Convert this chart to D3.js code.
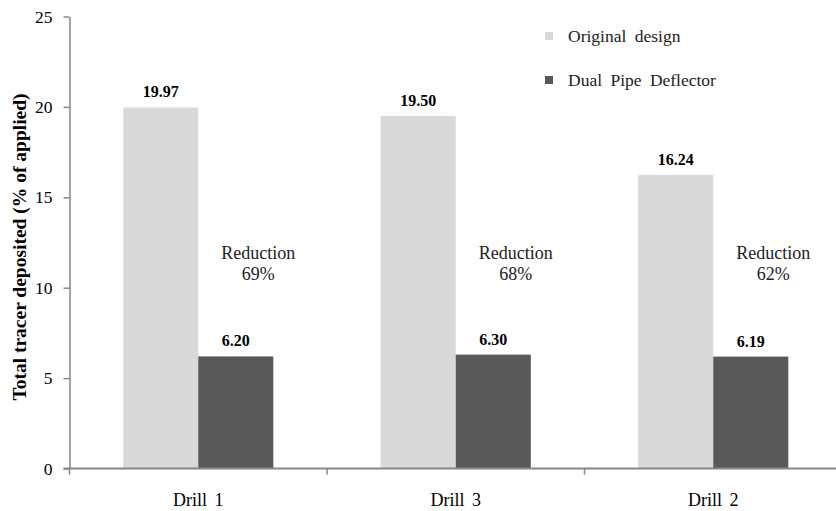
<!DOCTYPE html>
<html>
<head>
<meta charset="utf-8">
<script src="https://cdn.jsdelivr.net/npm/d3@7/dist/d3.min.js"></script>
<style>
  html, body { margin: 0; padding: 0; background: #fff; }
</style>
</head>
<body>
<svg id="chart" width="836" height="511"></svg>
<script>
// Drills in plotted order
const drills = ["Drill 1", "Drill 3", "Drill 2"];
// Series
const seriesNames = ["Original design", "Dual Pipe Deflector"];
const originalDesign = [19.97, 19.50, 16.24];
const dualPipeDeflector = [6.20, 6.30, 6.19];
const reductionPct = [69, 68, 62];
const yTicks = [0, 5, 10, 15, 20, 25];

const colors = ["#d9d9d9", "#595959"];
const FONT = "'Liberation Serif', 'Times New Roman', Times, 'DejaVu Serif', serif";
const svg = d3.select("#chart").attr("font-family", FONT);

const x0 = d3.scaleBand().domain(drills).range([69.5, 842])
  .paddingInner(0.417).paddingOuter(0.2085);
const x1 = d3.scaleBand().domain(seriesNames).range([0, x0.bandwidth()]);
const y = d3.scaleLinear().domain([0, 25]).range([468.5, 16.5]);

const rows = drills.map((d, i) => ({
  drill: d,
  values: [originalDesign[i], dualPipeDeflector[i]],
  reduction: reductionPct[i]
}));

// Bars
const groups = svg.append("g").selectAll("g").data(rows).join("g")
  .attr("transform", d => `translate(${x0(d.drill)},0)`);

groups.selectAll("rect")
  .data(d => d.values.map((v, j) => ({ name: seriesNames[j], value: v, j })))
  .join("rect")
  .attr("x", d => x1(d.name))
  .attr("width", x1.bandwidth())
  .attr("y", d => y(d.value))
  .attr("height", d => y(0) - y(d.value))
  .attr("fill", d => colors[d.j]);

// Value labels
groups.selectAll("text.val")
  .data(d => d.values.map((v, j) => ({ name: seriesNames[j], value: v })))
  .join("text")
  .attr("class", "val")
  .attr("x", d => x1(d.name) + x1.bandwidth() / 2)
  .attr("y", d => y(d.value) - 10)
  .attr("text-anchor", "middle")
  .attr("font-family", FONT)
  .attr("font-size", 16)
  .attr("font-weight", "bold")
  .attr("fill", "#000")
  .text(d => d.value.toFixed(2));

// Reduction notes
groups.append("text")
  .attr("x", x0.bandwidth() / 2 + 60)
  .attr("y", 259)
  .attr("text-anchor", "middle")
  .attr("font-family", FONT)
  .attr("font-size", 18)
  .attr("fill", "#222")
  .text("Reduction");
groups.append("text")
  .attr("x", x0.bandwidth() / 2 + 60)
  .attr("y", 280)
  .attr("text-anchor", "middle")
  .attr("font-family", FONT)
  .attr("font-size", 18)
  .attr("fill", "#222")
  .text(d => d.reduction + "%");

// Y axis
const yAxis = svg.append("g")
  .attr("transform", "translate(69.5,0)")
  .call(d3.axisLeft(y).tickValues(yTicks).tickSize(6).tickPadding(11).tickSizeOuter(0));
yAxis.select(".domain").attr("stroke", "#868686").attr("stroke-width", 1.5);
yAxis.selectAll(".tick line").attr("stroke", "#868686").attr("stroke-width", 1.5);
yAxis.selectAll(".tick text")
  .attr("font-size", 17.5).attr("font-family", FONT).attr("fill", "#000");

// X axis
const xAxisY = y(0);
svg.append("line")
  .attr("x1", 63.5).attr("x2", 836)
  .attr("y1", xAxisY).attr("y2", xAxisY)
  .attr("stroke", "#868686").attr("stroke-width", 2);
const bounds = [x0.range()[0], ...drills.slice(1).map(d => x0(d) - x0.step() * x0.paddingInner() / 2)];
svg.append("g").selectAll("line").data(bounds).join("line")
  .attr("x1", d => d).attr("x2", d => d)
  .attr("y1", xAxisY).attr("y2", xAxisY + 6)
  .attr("stroke", "#868686").attr("stroke-width", 1.5);
svg.append("g").selectAll("text").data(drills).join("text")
  .attr("x", d => x0(d) + x0.bandwidth() / 2)
  .attr("y", 506)
  .attr("text-anchor", "middle")
  .attr("font-family", FONT)
  .attr("font-size", 18)
  .attr("word-spacing", 3)
  .attr("fill", "#000")
  .text(d => d);

// Y axis title
svg.append("text")
  .attr("transform", "translate(26,247) rotate(-90)")
  .attr("text-anchor", "middle")
  .attr("font-family", FONT)
  .attr("font-size", 19.5)
  .attr("font-weight", "bold")
  .attr("fill", "#000")
  .text("Total tracer deposited (% of applied)");

// Legend
const legend = svg.append("g").selectAll("g").data(seriesNames).join("g")
  .attr("transform", (d, i) => `translate(545,${32 + i * 44})`);
legend.append("rect").attr("width", 8).attr("height", 8)
  .attr("fill", (d, i) => colors[i]);
legend.append("text")
  .attr("x", 23).attr("y", 10)
  .attr("font-family", FONT)
  .attr("font-size", 17.5)
  .attr("word-spacing", 4)
  .attr("fill", "#222")
  .text(d => d);
</script>
</body>
</html>
